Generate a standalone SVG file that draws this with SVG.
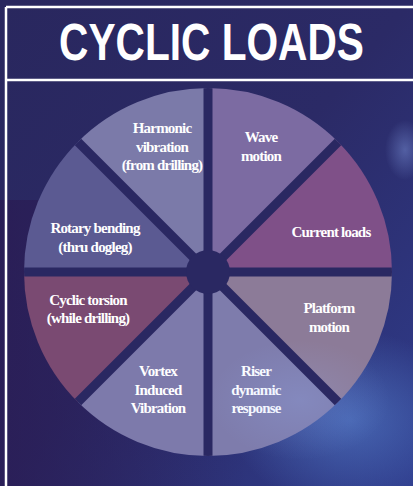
<svg xmlns="http://www.w3.org/2000/svg" width="413" height="486" viewBox="0 0 413 486">
  <defs>
    <linearGradient id="bg" x1="0" y1="0" x2="1" y2="1">
      <stop offset="0" stop-color="#29275e"/>
      <stop offset="0.5" stop-color="#2b2a66"/>
      <stop offset="1" stop-color="#2f3c8c"/>
    </linearGradient>
    <linearGradient id="bg2" x1="0" y1="0" x2="1" y2="0">
      <stop offset="0" stop-color="#2a1a52" stop-opacity="0.7"/>
      <stop offset="0.6" stop-color="#2a1a52" stop-opacity="0"/>
    </linearGradient>
    <radialGradient id="glow1" cx="0.5" cy="0.5" r="0.5">
      <stop offset="0" stop-color="#5a8ad8" stop-opacity="0.55"/>
      <stop offset="1" stop-color="#5a8ad8" stop-opacity="0"/>
    </radialGradient>
    <radialGradient id="glow2" cx="0.5" cy="0.5" r="0.5">
      <stop offset="0" stop-color="#9ab8ff" stop-opacity="0.35"/>
      <stop offset="1" stop-color="#9ab8ff" stop-opacity="0"/>
    </radialGradient>
    <clipPath id="disc">
      <circle cx="208" cy="272" r="184"/>
    </clipPath>
    <style>
      .frame { stroke: #ffffff; stroke-width: 2.5; fill: none; }
      .title { font-family: "Liberation Sans", Arial, sans-serif; font-weight: bold; font-size: 52px; fill: #ffffff; text-anchor: middle; }
      .lbl { font-family: "Liberation Serif", "Times New Roman", serif; font-weight: bold; font-size: 15px; fill: #ffffff; text-anchor: middle; letter-spacing: -0.8px; }
      .gap { stroke: #2a2862; stroke-width: 9; }
    </style>
  </defs>

  <rect x="0" y="0" width="413" height="486" fill="url(#bg)"/>
  <rect x="0" y="200" width="413" height="286" fill="url(#bg2)"/>
  <ellipse cx="350" cy="420" rx="120" ry="90" fill="url(#glow1)"/>
  <ellipse cx="300" cy="360" rx="70" ry="40" fill="url(#glow2)"/>
  <ellipse cx="405" cy="150" rx="20" ry="30" fill="url(#glow2)"/>

  <g id="frame">
    <line class="frame" x1="6" y1="7" x2="413" y2="7"/>
    <line class="frame" x1="6" y1="7" x2="6" y2="486"/>
    <line class="frame" x1="6" y1="80" x2="413" y2="80"/>
  </g>

  <g id="title">
    <text class="title" transform="translate(211.5 60) scale(0.782 1)" x="0" y="0">CYCLIC LOADS</text>
  </g>

  <!-- center (208,272), R=184 -->
  <g id="harmonic">
    <path d="M208 272 L77.9 141.9 A184 184 0 0 1 208 88 Z" fill="#7b7aa9"/>
    <text class="lbl" x="162" y="133">Harmonic</text>
    <text class="lbl" x="162" y="152">vibration</text>
    <text class="lbl" x="162" y="170">(from drilling)</text>
  </g>
  <g id="wave">
    <path d="M208 272 L208 88 A184 184 0 0 1 338.1 141.9 Z" fill="#7c6ba2"/>
    <text class="lbl" x="261" y="142">Wave</text>
    <text class="lbl" x="261" y="161">motion</text>
  </g>
  <g id="current">
    <path d="M208 272 L338.1 141.9 A184 184 0 0 1 392 272 Z" fill="#7f5088"/>
    <text class="lbl" x="331" y="237">Current loads</text>
  </g>
  <g id="platform">
    <path d="M208 272 L392 272 A184 184 0 0 1 338.1 402.1 Z" fill="#8c7b98"/>
    <text class="lbl" x="329" y="313">Platform</text>
    <text class="lbl" x="329" y="332">motion</text>
  </g>
  <g id="riser">
    <path d="M208 272 L338.1 402.1 A184 184 0 0 1 208 456 Z" fill="#7e7cac"/>
    <text class="lbl" x="256" y="376">Riser</text>
    <text class="lbl" x="256" y="395">dynamic</text>
    <text class="lbl" x="256" y="413">response</text>
  </g>
  <g id="vortex">
    <path d="M208 272 L208 456 A184 184 0 0 1 77.9 402.1 Z" fill="#7d7aab"/>
    <text class="lbl" x="158" y="376">Vortex</text>
    <text class="lbl" x="158" y="395">Induced</text>
    <text class="lbl" x="158" y="413">Vibration</text>
  </g>
  <g id="torsion">
    <path d="M208 272 L77.9 402.1 A184 184 0 0 1 24 272 Z" fill="#7a4a72"/>
    <text class="lbl" x="88" y="305">Cyclic torsion</text>
    <text class="lbl" x="88" y="323">(while drilling)</text>
  </g>
  <g id="rotary">
    <path d="M208 272 L24 272 A184 184 0 0 1 77.9 141.9 Z" fill="#5b5a92"/>
    <text class="lbl" x="95" y="233">Rotary bending</text>
    <text class="lbl" x="95" y="252">(thru dogleg)</text>
  </g>

  <ellipse cx="300" cy="400" rx="90" ry="60" fill="url(#glow2)" opacity="0.6"/>

  <g id="connectors" clip-path="url(#disc)">
    <line class="gap" x1="20" y1="272" x2="396" y2="272"/>
    <line class="gap" x1="208" y1="84" x2="208" y2="460"/>
    <line class="gap" x1="75" y1="139" x2="341" y2="405"/>
    <line class="gap" x1="75" y1="405" x2="341" y2="139"/>
    <circle cx="208" cy="272" r="22" fill="#2a2862"/>
  </g>
</svg>
